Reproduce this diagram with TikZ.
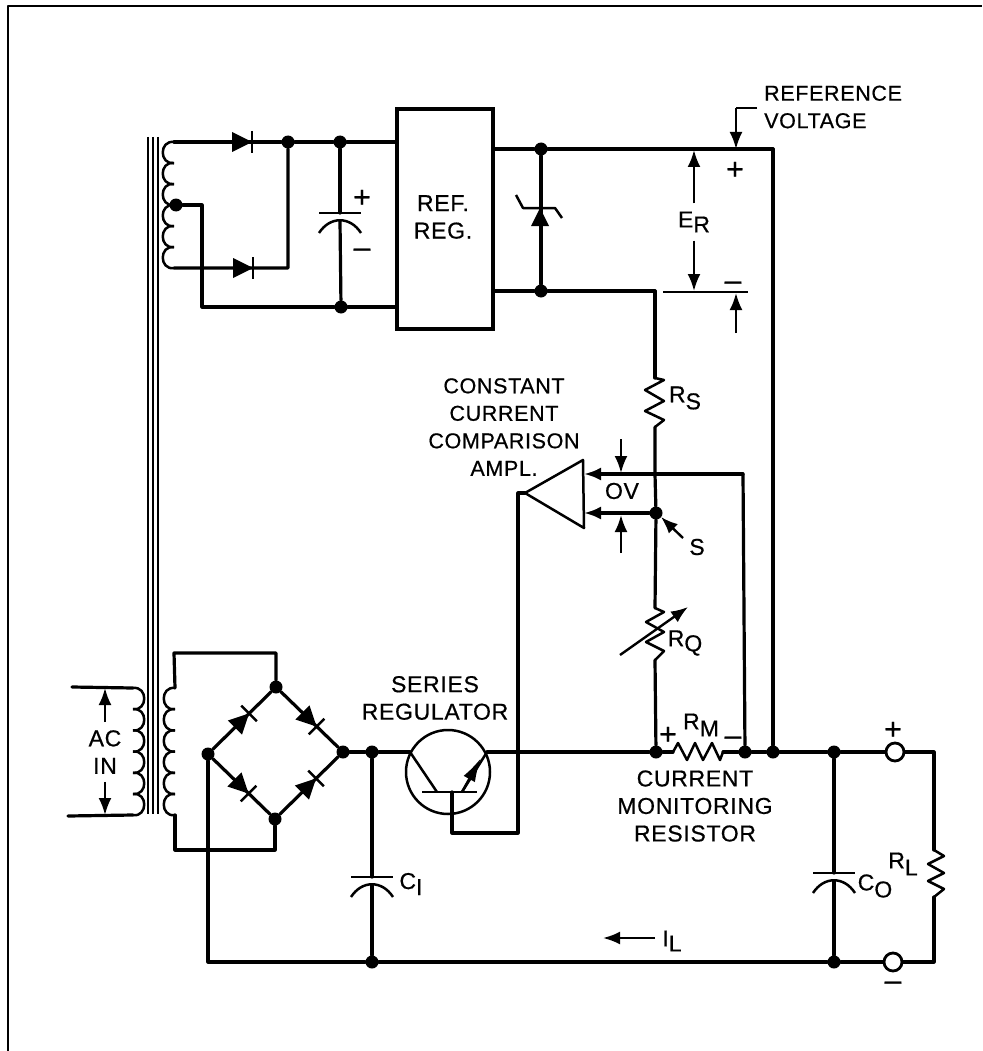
\documentclass[tikz,border=0pt]{standalone}
\usepackage{fontspec}
\setmainfont[LetterSpace=3,FakeBold=0.6]{Liberation Sans}
\usetikzlibrary{arrows.meta,shapes,positioning,calc}

\begin{document}
\begin{tikzpicture}[
    x=1pt, y=-1pt,
    every node/.style={font=\fontsize{23}{27.5}\selectfont, inner sep=0pt},
    sign/.style={font=\fontsize{30}{30}\selectfont},
    small/.style={font=\fontsize{21.5}{27.5}\selectfont},
    wire/.style={line width=3.2pt, line join=round, line cap=round},
    thinw/.style={line width=2.5pt, line join=round},
    dim/.style={line width=2.4pt, -{Latex[length=17pt, width=13pt]}},
    junct/.style={circle, fill=black, minimum size=13pt},
    term/.style={circle, draw, line width=2.8pt, fill=white, minimum size=18pt},
    diode/.pic={
        \fill (-10,-10) -- (10,0) -- (-10,10) -- cycle;
        \draw[thinw] (10,-11) -- (10,11);
    },
    capac/.pic={
        \coordinate (-top) at (0,0);
        \coordinate (-bot) at (0,8);
        \draw[thinw] (-21,0) -- (21,0);
        \draw[thinw] (-21,20) .. controls (-10,3) and (10,3) .. (21,20);
    },
    coil/.pic={
        \coordinate (-a) at (0,0);
        \coordinate (-b) at (0,127);
        \foreach \n in {0,...,5}
            \draw[thinw] (0,21.2*\n) .. controls (-15,21.2*\n-2) and (-15,21.2*\n+23) .. (0,21.2*\n+21.2);
    }
]
    \useasboundingbox (0,0) rectangle (982,1051);

    % Frame
    \coordinate (frameA) at (8,1051);
    \coordinate (frameB) at (8,6);
    \coordinate (frameC) at (982,6);
    \draw[thinw] (frameA) -- (frameB) -- (frameC);

    % Transformer core
    \foreach \x/\nm in {148/a,153/b,158/c} {
        \coordinate (core\nm T) at (\x,137);
        \coordinate (core\nm B) at (\x,814);
        \draw[line width=1.8pt] (core\nm T) -- (core\nm B);
    }

    % Coils
    \pic (primary) at (133,688) [xscale=-1] {coil};
    \pic (upper) at (174,142) [yscale=0.992] {coil};
    \pic (lower) at (175,688) {coil};
    \coordinate (acT) at (72,687);
    \coordinate (acB) at (68,816);
    \draw[wire] (acT) -- (primary-a);
    \draw[wire] (acB) -- (primary-b);
    \node[align=center, inner sep=8pt] (acin) at (105,752) {AC\\IN};
    \coordinate (acTip) at (105,688);
    \coordinate (acBip) at (105,815);
    \draw[dim] (acin) -- (acTip);
    \draw[dim] (acin) -- (acBip);

    % Reference rectifier
    \node[junct] (tapN) at (176,205) {};
    \node[junct] (recN) at (288,142) {};
    \node[junct] (capT) at (340,142) {};
    \node[junct] (capB) at (341,307) {};
    \coordinate (tapC) at (202,205);
    \coordinate (tapD) at (202,307);
    \coordinate (recC) at (288,268);
    \node[draw, line width=3.2pt, minimum width=96pt, minimum height=220pt] (refreg) at (445,219) {};
    \node[align=center] (reftext) at (443,217) {REF.\\REG.};
    \draw[wire] (upper-a) -- (recN) -- (capT) -- (capT -| refreg.west);
    \draw[wire] (tapN) -- (tapC) -- (tapD) -- (capB) -- (capB -| refreg.west);
    \draw[wire] (upper-b) -- (recC) -- (recN);
    \pic at (242,142) {diode};
    \pic at (243,268) {diode};
    \pic (cf) at (340,213) {capac};
    \draw[wire] (capT) -- (cf-top);
    \draw[wire] (cf-bot) -- (capB);
    \node[sign] (cfplus) at (362,198.5) {+};
    \node[sign] (cfminus) at (362,253) {–};

    % Zener and reference line
    \node[junct] (zenT) at (541,149) {};
    \node[junct] (zenB) at (541,291) {};
    \coordinate (refC) at (773,149);
    \coordinate (drop) at (655,291);
    \draw[wire] (zenT -| refreg.east) -- (zenT) -- (refC);
    \draw[wire] (zenB -| refreg.east) -- (zenB) -- (drop);
    \draw[wire] (zenT) -- (zenB);
    \fill (540,208) -- (549,226) -- (531,226) -- cycle;
    \coordinate (zenL) at (516,195);
    \coordinate (zenM) at (523,208);
    \coordinate (zenN) at (555,208);
    \coordinate (zenO) at (562,218);
    \draw[thinw] (zenL) -- (zenM) -- (zenN) -- (zenO);

    % Reference voltage labels
    \node[small, anchor=west, align=left] (reftxt) at (764,107) {REFERENCE\\VOLTAGE};
    \coordinate (refA) at (757,108);
    \coordinate (refB) at (736,108);
    \coordinate (refTip) at (736,149);
    \draw[thinw] (refA) -- (refB);
    \draw[dim] (refB) -- (refTip);
    \node[sign] (refplus) at (735,170.5) {+};
    \node[inner sep=8pt] (er) at (694,222) {E\raisebox{-5pt}{R}};
    \coordinate (erT) at (694,150);
    \coordinate (erB) at (694,291);
    \draw[dim] (er) -- (erT);
    \draw[dim] (er) -- (erB);
    \coordinate (erL) at (663,292);
    \coordinate (erR) at (748,292);
    \draw[thinw] (erL) -- (erR);
    \node[sign] (erminus) at (733,286) {–};
    \coordinate (erA) at (736,333);
    \coordinate (erTip) at (736,293);
    \draw[dim] (erA) -- (erTip);

    % Resistor RS
    \coordinate (rsT) at (655,378);
    \coordinate (rsB) at (655,427);
    \draw[wire] (drop) -- (rsT);
    \draw[thinw] (rsT) -- (664,380) -- (645,390) -- (664,401) -- (645,411) -- (664,420) -- (rsB);
    \node (rs) at (685,398) {R\raisebox{-7pt}{S}};

    % Comparison amplifier
    \node[junct] (sN) at (656,513) {};
    \coordinate (amApex) at (525,493);
    \coordinate (amTop) at (583,460);
    \coordinate (amBot) at (584,528);
    \draw[thinw] (amApex) -- (amTop) -- (amBot) -- cycle;
    \coordinate (ampU) at (584,474);
    \coordinate (ampL) at (584,513);
    \coordinate (monC) at (743,474);
    \coordinate (rsMid) at (655,474);
    \draw[wire] (rsB) -- (rsMid) -- (sN);
    \draw[wire] (monC) -- (rsMid);
    \draw[wire, -{Latex[length=17pt, width=13pt]}] (rsMid) -- (ampU);
    \draw[wire, -{Latex[length=17pt, width=13pt]}] (sN) -- (ampL);
    \node (ov) at (622,491) {OV};
    \coordinate (ovT) at (621,439);
    \coordinate (ovTip) at (621,473);
    \coordinate (ovB) at (621,553);
    \coordinate (ovBip) at (621,515);
    \draw[dim] (ovT) -- (ovTip);
    \draw[dim] (ovB) -- (ovBip);
    \node (sText) at (697,547) {S};
    \coordinate (sA) at (683,538);
    \coordinate (sTip) at (661,517);
    \draw[dim] (sA) -- (sTip);
    \node[small, align=center] (cca) at (504,427) {CONSTANT\\CURRENT\\COMPARISON\\AMPL.};

    % Resistor RQ
    \coordinate (rqT) at (655,608);
    \coordinate (rqB) at (655,660);
    \node[junct] (rmL) at (656,752) {};
    \draw[wire] (sN) -- (rqT);
    \draw[thinw] (rqT) -- (664,612) -- (646,622) -- (664,632) -- (646,642) -- (664,651) -- (rqB);
    \draw[wire] (rqB) -- (rmL);
    \coordinate (rqA) at (620,655);
    \coordinate (rqTip) at (688,607);
    \draw[dim] (rqA) -- (rqTip);
    \node (rq) at (685,643) {R\raisebox{-5pt}{Q}};

    % Bridge rectifier
    \node[junct] (brT) at (276,687) {};
    \node[junct] (brL) at (208,754) {};
    \node[junct] (brR) at (343,752) {};
    \node[junct] (brB) at (275,819) {};
    \draw[wire] (brT) -- (brR) -- (brB) -- (brL) -- (brT);
    \pic at ($(brL)!0.5!(brT)$) [rotate=45] {diode};
    \pic at ($(brT)!0.5!(brR)$) [rotate=-45] {diode};
    \pic at ($(brL)!0.5!(brB)$) [rotate=-45] {diode};
    \pic at ($(brB)!0.5!(brR)$) [rotate=45] {diode};
    \coordinate (loopTR) at (276,653);
    \coordinate (loopTL) at (174,653);
    \coordinate (loopBL) at (175,850);
    \coordinate (loopBR) at (275,850);
    \draw[wire] (brT) -- (loopTR) -- (loopTL) -- (lower-a);
    \draw[wire] (lower-b) -- (loopBL) -- (loopBR) -- (brB);

    % Input capacitor
    \node[junct] (ciT) at (372,752) {};
    \node[junct] (ciB) at (372,962) {};
    \pic (ci) at (372,877) {capac};
    \draw[wire] (brR) -- (ciT) -- (ci-top);
    \draw[wire] (ci-bot) -- (ciB);
    \node (citext) at (411,884) {C\raisebox{-6pt}{I}};

    % Series regulator
    \node[circle, draw, line width=2.5pt, minimum size=84pt] (qs) at (448,772) {};
    \node[align=center] (qstext) at (435,698) {SERIES\\REGULATOR};
    \coordinate (qsC) at (410,752);
    \coordinate (qsCb) at (437,792);
    \coordinate (qsBl) at (422,792);
    \coordinate (qsBr) at (477,792);
    \coordinate (qsE) at (462,792);
    \coordinate (qsEo) at (487,752);
    \coordinate (qsTip) at (481,758);
    \coordinate (qsB) at (452,792);
    \coordinate (qsD) at (452,833);
    \coordinate (qsF) at (518,833);
    \coordinate (qsG) at (518,493);
    \draw[wire] (ciT) -- (qsC);
    \draw[thinw] (qsC) -- (qsCb);
    \draw[thinw] (qsBl) -- (qsBr);
    \draw[thinw] (qsE) -- (qsEo);
    \draw[thinw, -{Latex[length=24pt, width=13pt]}] (qsE) -- (qsTip);
    \draw[wire] (qsB) -- (qsD) -- (qsF) -- (qsG) -- (amApex);
    \draw[wire] (qsEo) -- (rmL);

    % Monitoring resistor and output bus
    \node[junct] (rmR) at (745,752) {};
    \node[junct] (busN) at (773,752) {};
    \node[junct] (coT) at (834,752) {};
    \node[junct] (coB) at (834,962) {};
    \node[term] (outP) at (895,752) {};
    \node[term] (outM) at (893,962) {};
    \coordinate (rmA) at (673,752);
    \coordinate (rmB) at (723,752);
    \draw[wire] (rmL) -- (rmA);
    \draw[thinw] (rmA) -- (678,743) -- (687,760) -- (695,743) -- (703,760) -- (712,743) -- (720,760) -- (rmB);
    \draw[wire] (rmB) -- (rmR) -- (busN) -- (coT) -- (outP);
    \draw[wire] (monC) -- (rmR);
    \draw[wire] (refC) -- (busN);
    \node[sign] (rmplus) at (668,735.5) {+};
    \node (rm) at (701,725) {R\raisebox{-7pt}{M}};
    \node[sign] (rmminus) at (733,741) {–};
    \node[align=center] (cmr) at (695,806) {CURRENT\\MONITORING\\RESISTOR};

    % Output capacitor and load
    \pic (co) at (834,873) {capac};
    \draw[wire] (coT) -- (co-top);
    \draw[wire] (co-bot) -- (coB);
    \node (cotext) at (875,886) {C\raisebox{-7pt}{O}};
    \coordinate (loadT) at (934,752);
    \coordinate (loadB) at (934,962);
    \coordinate (rlT) at (934,850);
    \coordinate (rlB) at (934,897);
    \draw[wire] (outP) -- (loadT) -- (rlT);
    \draw[thinw] (rlT) -- (944,856) -- (928,864) -- (944,873) -- (928,881) -- (944,889) -- (rlB);
    \draw[wire] (rlB) -- (loadB) -- (outM) -- (coB) -- (ciB);
    \coordinate (frameL) at (208,962);
    \draw[wire] (ciB) -- (frameL) -- (brL);
    \node (rl) at (903,864) {R\raisebox{-7pt}{L}};
    \node[sign] (outplus) at (893,730.5) {+};
    \node[sign] (outminus) at (893,986) {–};
    \node (il) at (672,941) {I\raisebox{-5pt}{L}};
    \coordinate (ilA) at (655,938);
    \coordinate (ilTip) at (603,938);
    \draw[dim] (ilA) -- (ilTip);
\end{tikzpicture}
\end{document}
